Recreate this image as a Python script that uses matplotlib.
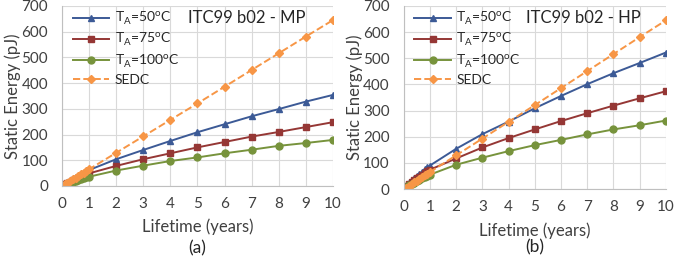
import numpy as np
import matplotlib.pyplot as plt

plt.rcParams['font.family'] = ['Lato', 'DejaVu Sans']

# lifetime in years: dense steps in the first year, then yearly
years = [0, 0.1, 0.2, 0.3, 0.4, 0.5, 0.6, 0.7, 0.8, 0.9, 1, 2, 3, 4, 5, 6, 7, 8, 9, 10]

# (a) ITC99 b02 - MP
mp_50 = [0, 8, 15, 21, 28, 34, 40, 46, 51, 57, 62, 104, 140, 175, 209, 240, 271, 299, 328, 354]
mp_75 = [0, 7, 12, 17, 22, 27, 31, 36, 40, 45, 49, 78, 104, 127, 150, 171, 192, 210, 229, 248]
mp_100 = [0, 5, 9, 13, 16, 20, 23, 26, 30, 33, 36, 60, 79, 97, 111, 127, 141, 156, 167, 179]
mp_sedc = [0, 6, 13, 19, 26, 32, 39, 45, 52, 58, 65, 129, 193, 257, 321, 386, 451, 516, 581, 645]

# (b) ITC99 b02 - HP
hp_50 = [0, 12, 22, 32, 41, 50, 59, 67, 75, 83, 90, 154, 210, 258, 309, 356, 401, 443, 482, 522]
hp_75 = [0, 10, 19, 27, 34, 41, 48, 55, 61, 68, 74, 117, 159, 195, 228, 260, 290, 319, 347, 374]
hp_100 = [0, 8, 14, 20, 25, 31, 36, 41, 46, 51, 55, 93, 120, 145, 168, 188, 209, 228, 244, 262]
hp_sedc = mp_sedc

labels = ['T$_\\mathregular{A}$=50$^\\mathregular{o}$C',
          'T$_\\mathregular{A}$=75$^\\mathregular{o}$C',
          'T$_\\mathregular{A}$=100$^\\mathregular{o}$C',
          'SEDC']
colors = ['#3C5A96', '#953735', '#77933C', '#F79646']
markers = ['^', 's', 'o', 'D']

fig = plt.figure(figsize=(6.74, 2.59), dpi=100)
ax_a = fig.add_axes([0.092, 0.282, 0.402, 0.695])
ax_b = fig.add_axes([0.599, 0.270, 0.389, 0.707])

# axes, data, title, tag, title x, ylabel x, tag y
panels = [(ax_a, [mp_50, mp_75, mp_100, mp_sedc], 'ITC99 b02 - MP', '(a)', 6.8, -0.181, -0.344),
          (ax_b, [hp_50, hp_75, hp_100, hp_sedc], 'ITC99 b02 - HP', '(b)', 6.87, -0.187, -0.317)]

for ax, series, title, tag, tx, ylx, tgy in panels:
    for i, vals in enumerate(series):
        ls = '--' if i == 3 else '-'
        ax.plot(years, vals, ls, color=colors[i], marker=markers[i],
                markersize=5 if i != 3 else 4.5, linewidth=1.4, label=labels[i])
    ax.set_xlim(0, 10)
    ax.set_ylim(0, 700)
    ax.set_xticks(range(0, 11))
    ax.set_yticks(range(0, 701, 100))
    ax.grid(True, color='#D9D9D9', linewidth=0.8)
    ax.set_axisbelow(True)
    for s in ['top', 'right']:
        ax.spines[s].set_visible(False)
    for s in ['left', 'bottom']:
        ax.spines[s].set_color('#BFBFBF')
    ax.tick_params(length=0, labelsize=11, colors='#404040')
    ax.tick_params(axis='x', pad=8)
    ax.tick_params(axis='y', pad=10)
    ax.set_xlabel('Lifetime (years)', fontsize=12, color='#404040', va='center')
    ax.xaxis.set_label_coords(0.5, -0.228)
    ax.set_ylabel('Static Energy (pJ)', fontsize=12, color='#404040', va='center')
    ax.yaxis.set_label_coords(ylx, 0.5)
    ax.text(tx, 655, title, ha='center', va='center', fontsize=12, color='#262626')
    ax.text(0.5, tgy, tag, transform=ax.transAxes, ha='center', va='center',
            fontsize=12.5, color='#262626')
    ax.legend(loc='upper left', bbox_to_anchor=(0.025, 1.0), frameon=False,
              fontsize=10, handlelength=2.6, borderaxespad=0.1, labelspacing=0.3,
              handletextpad=0.4, borderpad=0.2, labelcolor='#262626')

fig.savefig('out.png', dpi=100)
